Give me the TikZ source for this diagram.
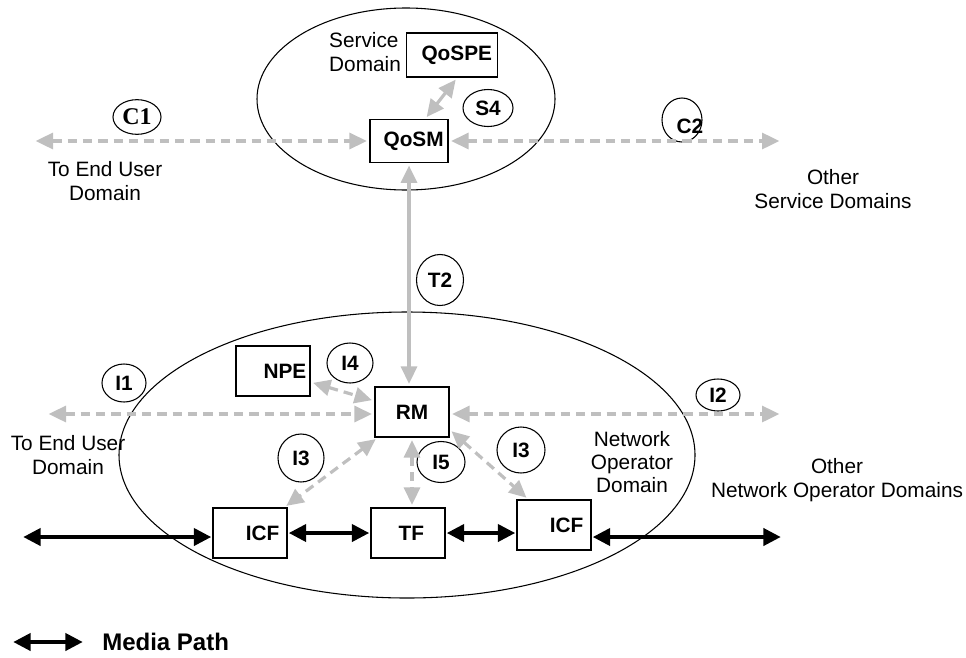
\documentclass[tikz,border=0pt]{standalone}
\usepackage{fontspec}
\setmainfont{Liberation Sans}
\newfontfamily\serifbold{Liberation Serif}
\usetikzlibrary{arrows.meta,shapes.geometric}
\definecolor{linkgray}{RGB}{191,191,191}
\newcommand\txtsize{\fontsize{15.6}{17.5}\selectfont}
\tikzset{
	unit/.style={draw, line width=0.8pt, minimum width=55.5pt, minimum height=37.5pt, inner sep=0pt, font=\txtsize\bfseries},
	iface/.style={draw, ellipse, line width=0.8pt, inner sep=0pt, font=\txtsize\bfseries},
	ctrl/.style={draw=linkgray, line width=2.4pt, dash pattern=on 7pt off 4.5pt, {Triangle[length=13pt,width=12pt]}-{Triangle[length=13pt,width=12pt]}, linkgray, shorten <=2pt, shorten >=2pt},
	trans/.style={draw=linkgray, line width=2.4pt, {Triangle[length=13pt,width=12pt]}-{Triangle[length=13pt,width=12pt]}, linkgray, shorten <=2pt, shorten >=2pt},
	media/.style={draw=black, line width=2.4pt, {Triangle[length=13pt,width=13pt]}-{Triangle[length=13pt,width=13pt]}, shorten <=1pt, shorten >=1pt},
	txt/.style={align=center, font=\txtsize, inner sep=0pt}
}
\begin{document}
\begin{tikzpicture}[x=0.75pt, y=0.75pt]
	\useasboundingbox (0,0) rectangle (966,-657);
	% domains
	\draw[line width=0.8pt] (406,-99) ellipse [x radius=149, y radius=91];
	\draw[line width=0.8pt] (407,-455) ellipse [x radius=288, y radius=143];
	\node[txt, align=left] (sdom) at (365,-52){Service\\Domain};
	\node[txt] (nodom) at (632,-462){Network\\Operator\\Domain};
	\node[txt] (eu1) at (105,-181){To End User\\Domain};
	\node[txt] (eu2) at (68,-455){To End User\\Domain};
	\node[txt] (osd) at (833,-189){Other\\Service Domains};
	\node[txt] (onod) at (837,-480){Other\\Network Operator Domains};
	% functional entities
	\node[unit, minimum width=68pt, minimum height=33pt, text width=60pt, align=right] (qospe) at (452,-55){QoSPE};
	\node[unit, minimum width=58.5pt, minimum height=32pt, text width=52pt, align=right] (qosm) at (409,-141){QoSM};
	\node[unit, text width=50pt, align=right] (npe) at (273,-371){NPE};
	\node[unit] (rm) at (412,-412){RM};
	\node[unit, text width=44pt, align=right] (icfa) at (250,-533){ICF};
	\node[unit, text width=44pt, align=center] (tf) at (408,-533){\hspace*{5pt}TF};
	\node[unit, text width=44pt, align=right] (icfb) at (554,-525){ICF};
	% reference points
	\foreach \n/\x/\y/\w/\h/\t in {s4/488/108/37.5/27.75/S4, t2/440/280/35.25/38.25/T2, i1/124/383/33/28.5/I1, i4/350/363/34.5/30/I4, i2/718/395/33/24/I2, i3a/301/458/34.5/36/I3, i5/441/462/36/30.75/I5, i3b/521/450/36/34.5/I3}{
		\node[iface, minimum width=\w pt, minimum height=\h pt] (\n) at (\x,-\y){\t};
	}
	\node[iface, minimum width=36pt, minimum height=26pt, font=\fontsize{18}{18}\serifbold\bfseries] (c1) at (137,-117){C1};
	\node[iface, minimum width=30pt, minimum height=33pt] (c2) at (682,-120){};
	\node[font=\txtsize\bfseries, inner sep=0pt] (c2txt) at (690,-126){C2};
	% control links
	\coordinate (c1end) at (33,-141);
	\coordinate (c2end) at (782,-141);
	\coordinate (i1end) at (46,-414);
	\coordinate (i2end) at (782,-414);
	\draw[ctrl] (c1end) -- (qosm.west);
	\draw[ctrl] (qosm.east) -- (c2end);
	\draw[trans] ([xshift=12pt]qosm.north) -- ([xshift=4pt]qospe.south);
	\draw[trans] (qosm.south) -- (qosm.south |- rm.north);
	\draw[ctrl] (i1end) -- (i1end -| rm.west);
	\draw[ctrl] (i2end -| rm.east) -- (i2end);
	\draw[ctrl] (npe) -- (rm);
	\draw[ctrl] (rm) -- (icfa);
	\draw[ctrl] (rm.south) -- (rm.south |- tf.north);
	\draw[ctrl] (rm.-25) -- (icfb.135);
	% media path
	\coordinate (mleft) at (22,-537);
	\coordinate (mright) at (782,-537);
	\draw[media] (mleft) -- (mleft -| icfa.west);
	\draw[media] (icfa.east) -- (tf.west);
	\draw[media] (tf.east) -- (tf.east -| icfb.west);
	\draw[media] (mright -| icfb.east) -- (mright);
	% legend
	\coordinate (lega) at (12,-642);
	\coordinate (legb) at (84,-642);
	\draw[media] (lega) -- (legb);
	\node[anchor=west, font=\fontsize{18}{18}\selectfont\bfseries, inner sep=0pt] (legtxt) at (102,-642){Media Path};
\end{tikzpicture}
\end{document}
